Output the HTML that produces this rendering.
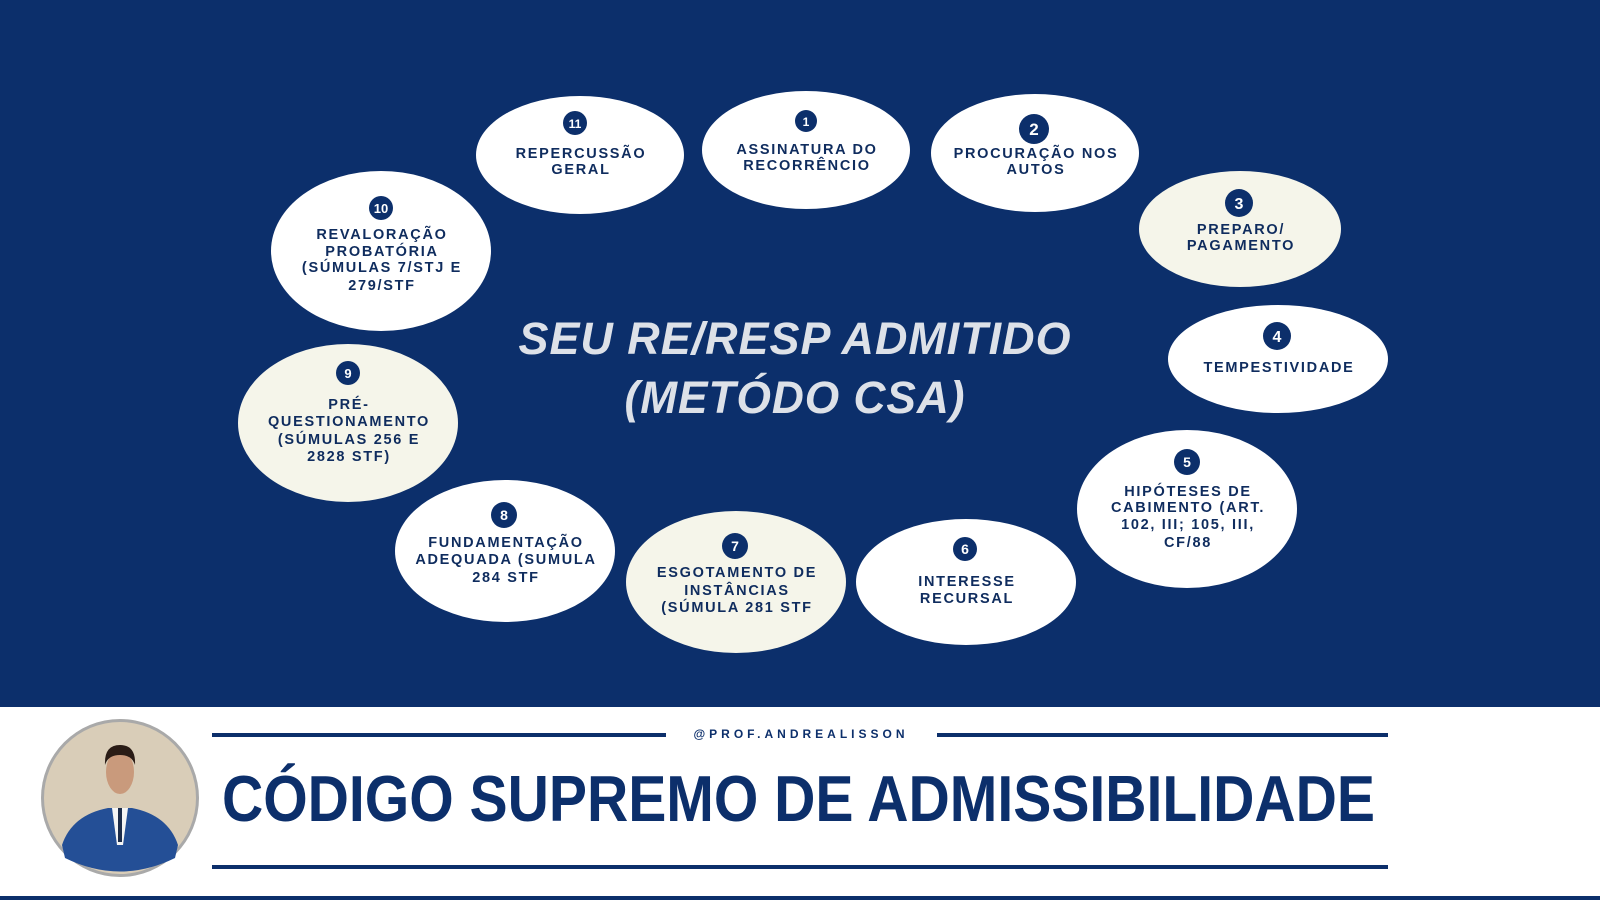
<!DOCTYPE html>
<html><head><meta charset="utf-8"><style>
html,body{margin:0;padding:0;width:1600px;height:900px;overflow:hidden;background:#fff}
svg{display:block}
.t{font-family:"Liberation Sans",sans-serif;font-weight:bold;font-size:14.5px;letter-spacing:1.7px;fill:#0f2c5e;text-anchor:middle}
.n{font-family:"Liberation Sans",sans-serif;font-weight:bold;font-size:13px;fill:#fff;text-anchor:middle}
</style></head><body>
<svg width="1600" height="900" viewBox="0 0 1600 900" xmlns="http://www.w3.org/2000/svg">
<rect x="0" y="0" width="1600" height="707" fill="#0c2f6b"/>
<rect x="0" y="896" width="1600" height="4" fill="#0c2f6b"/>
<g>
<ellipse cx="580" cy="155" rx="104" ry="59" fill="#fff"/>
<ellipse cx="806" cy="150" rx="104" ry="59" fill="#fff"/>
<ellipse cx="1035" cy="153" rx="104" ry="59" fill="#fff"/>
<ellipse cx="1240" cy="229" rx="101" ry="58" fill="#f5f5ea"/>
<ellipse cx="1278" cy="359" rx="110" ry="54" fill="#fff"/>
<ellipse cx="1187" cy="509" rx="110" ry="79" fill="#fff"/>
<ellipse cx="966" cy="582" rx="110" ry="63" fill="#fff"/>
<ellipse cx="736" cy="582" rx="110" ry="71" fill="#f5f5ea"/>
<ellipse cx="505" cy="551" rx="110" ry="71" fill="#fff"/>
<ellipse cx="348" cy="423" rx="110" ry="79" fill="#f5f5ea"/>
<ellipse cx="381" cy="251" rx="110" ry="80" fill="#fff"/>
</g>
<g fill="#0c2f6b">
<circle cx="575" cy="123" r="12"/><circle cx="806" cy="121" r="11"/><circle cx="1034" cy="129" r="15"/>
<circle cx="1239" cy="203" r="14"/><circle cx="1277" cy="336" r="14"/><circle cx="1187" cy="462" r="13"/>
<circle cx="965" cy="549" r="12"/><circle cx="735" cy="546" r="13"/><circle cx="504" cy="515" r="13"/>
<circle cx="348" cy="373" r="12"/><circle cx="381" cy="208" r="12"/>
</g>
<g class="n">
<text x="575" y="128" font-size="12">11</text><text x="806" y="126" font-size="12">1</text><text x="1034" y="135" font-size="17">2</text>
<text x="1239" y="209" font-size="16">3</text><text x="1277" y="342" font-size="16">4</text><text x="1187" y="467" font-size="14">5</text>
<text x="965" y="554" font-size="14">6</text><text x="735" y="551" font-size="14">7</text><text x="504" y="520" font-size="14">8</text>
<text x="348" y="378" font-size="13">9</text><text x="381" y="213" font-size="13">10</text>
</g>
<g class="t">
<text x="581" y="158">REPERCUSSÃO</text><text x="581" y="174">GERAL</text>
<text x="807" y="154">ASSINATURA DO</text><text x="807" y="170">RECORRÊNCIO</text>
<text x="1036" y="158">PROCURAÇÃO NOS</text><text x="1036" y="174">AUTOS</text>
<text x="1241" y="234">PREPARO/</text><text x="1241" y="250">PAGAMENTO</text>
<text x="1279" y="372">TEMPESTIVIDADE</text>
<text x="1188" y="496">HIPÓTESES DE</text><text x="1188" y="512">CABIMENTO (ART.</text><text x="1188" y="529">102, III; 105, III,</text><text x="1188" y="547">CF/88</text>
<text x="967" y="586">INTERESSE</text><text x="967" y="603">RECURSAL</text>
<text x="737" y="577">ESGOTAMENTO DE</text><text x="737" y="595">INSTÂNCIAS</text><text x="737" y="612">(SÚMULA 281 STF</text>
<text x="506" y="547">FUNDAMENTAÇÃO</text><text x="506" y="564">ADEQUADA (SUMULA</text><text x="506" y="582">284 STF</text>
<text x="349" y="409">PRÉ-</text><text x="349" y="426">QUESTIONAMENTO</text><text x="349" y="444">(SÚMULAS 256 E</text><text x="349" y="461">2828 STF)</text>
<text x="382" y="239">REVALORAÇÃO</text><text x="382" y="256">PROBATÓRIA</text><text x="382" y="272">(SÚMULAS 7/STJ E</text><text x="382" y="290">279/STF</text>
</g>
<g font-family="'Liberation Sans',sans-serif" font-weight="bold" font-style="italic" fill="#dde1e8" text-anchor="middle" font-size="45" letter-spacing="1">
<text x="795" y="354" textLength="553" lengthAdjust="spacingAndGlyphs">SEU RE/RESP ADMITIDO</text>
<text x="795" y="413" textLength="341" lengthAdjust="spacingAndGlyphs">(METÓDO CSA)</text>
</g>
<rect x="212" y="733" width="454" height="4" fill="#0c2f6b"/>
<rect x="937" y="733" width="451" height="4" fill="#0c2f6b"/>
<text x="801" y="738" font-family="'Liberation Sans',sans-serif" font-weight="bold" font-size="12" fill="#0c2f6b" text-anchor="middle" letter-spacing="4">@PROF.ANDREALISSON</text>
<text x="222" y="821" font-family="'Liberation Sans',sans-serif" font-weight="bold" font-size="65" fill="#0c2f6b" textLength="1153" lengthAdjust="spacingAndGlyphs">CÓDIGO SUPREMO DE ADMISSIBILIDADE</text>
<rect x="212" y="865" width="1176" height="4" fill="#0c2f6b"/>
<circle cx="120" cy="798" r="79" fill="#a9a9a9"/>
<circle cx="120" cy="798" r="76" fill="#d9cdb8"/>
<path d="M62 845 Q72 815 108 808 L132 808 Q168 815 178 845 L175 858 Q120 885 65 858 Z" fill="#244f96"/>
<path d="M112 808 L128 808 L123 845 L117 845 Z" fill="#f4f4f4"/>
<rect x="118" y="808" width="4" height="34" fill="#1c2c4a"/>
<ellipse cx="120" cy="772" rx="14" ry="22" fill="#c99a7c"/>
<path d="M105 765 Q104 745 120 745 Q136 745 135 765 Q132 755 120 755 Q108 755 105 765Z" fill="#2a1c16"/>
</svg>
</body></html>
